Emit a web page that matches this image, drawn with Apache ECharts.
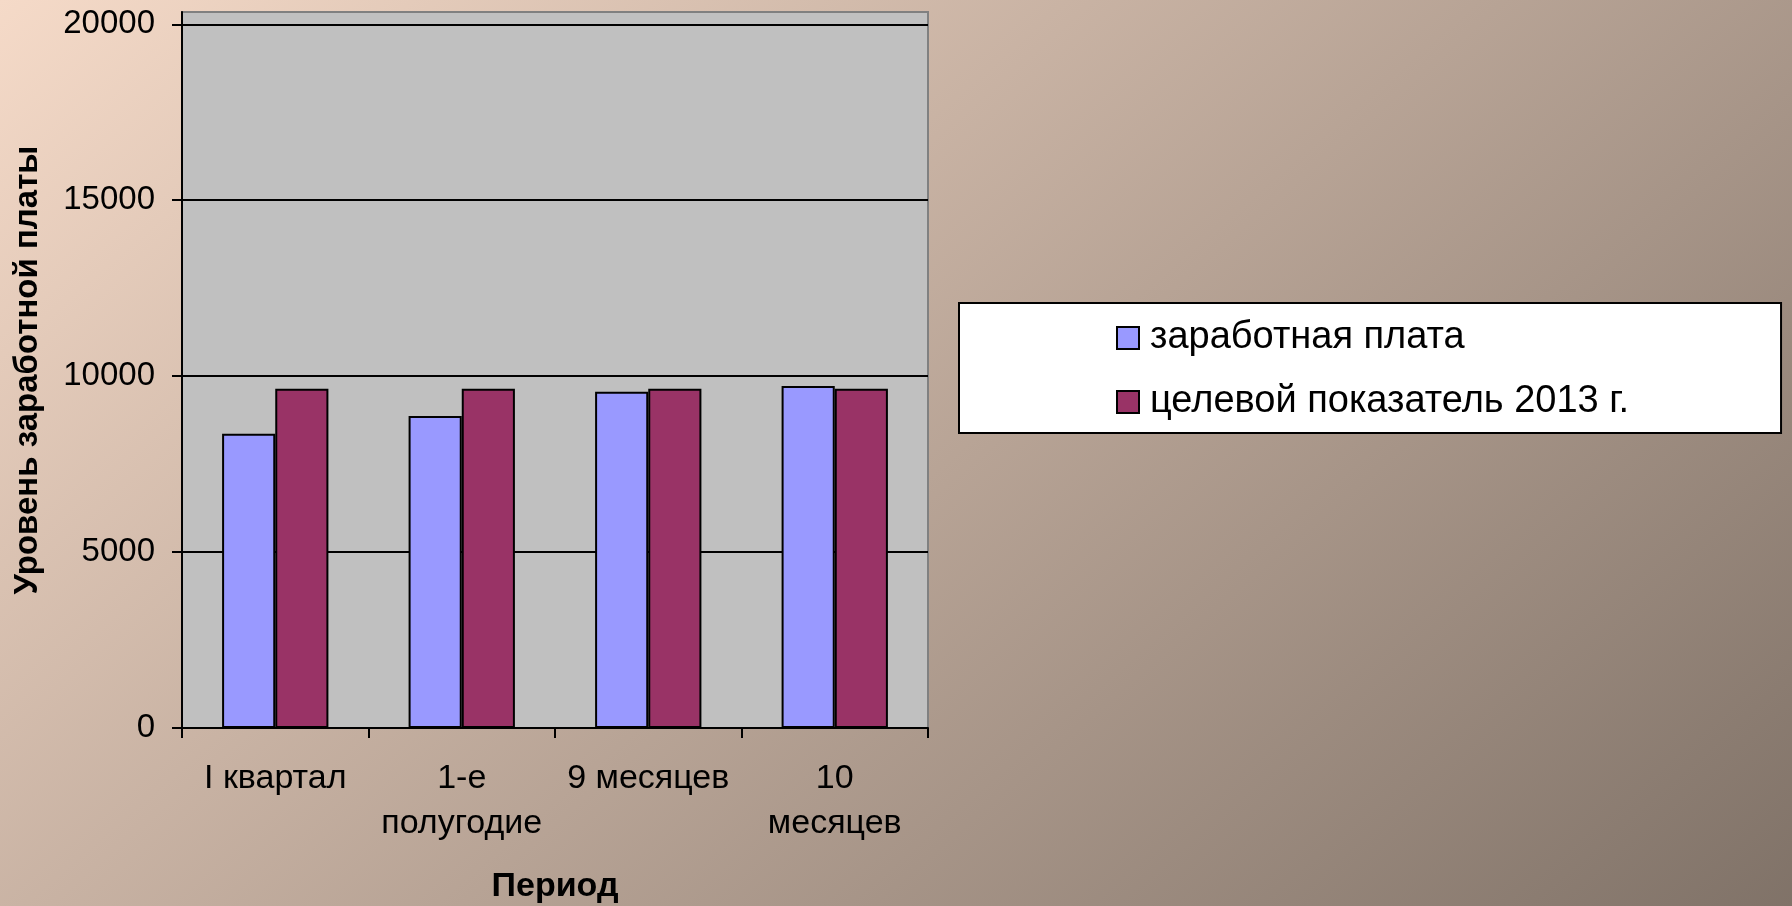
<!DOCTYPE html>
<html>
<head>
<meta charset="utf-8">
<script src="https://cdn.jsdelivr.net/npm/echarts@6/dist/echarts.min.js"></script>
<style>
html,body{margin:0;padding:0;width:1792px;height:906px;overflow:hidden;}
#chart{width:1792px;height:906px;}
</style>
</head>
<body>
<div id="chart"></div>
<script>
// Data
const categories = ['I квартал', '1-е\nполугодие', '9 месяцев', '10\nмесяцев'];
const salary = [8360, 8870, 9560, 9720];
const target = [9640, 9640, 9640, 9640];
const seriesNames = ['заработная плата', 'целевой показатель 2013 г.'];
const yTicks = [0, 5000, 10000, 15000, 20000];
const yAxisTitle = 'Уровень заработной платы';
const xAxisTitle = 'Период';

const FONT = 'Arial, "Liberation Sans", sans-serif';
const chart = echarts.init(document.getElementById('chart'), null, {renderer: 'canvas'});

const option = {
  backgroundColor: {
    type: 'linear', x: 0, y: 0, x2: 0.714, y2: 1.63,
    colorStops: [
      {offset: 0, color: '#F5DAC8'},
      {offset: 1, color: '#7A6D63'}
    ]
  },
  animation: false,
  textStyle: {fontFamily: FONT},
  grid: {
    left: 182, right: 864, top: 12, bottom: 178,
    show: true, backgroundColor: '#C0C0C0', borderColor: '#808080', borderWidth: 2,
    containLabel: false,
    outerBoundsMode: 'none'
  },
  legend: {
    orient: 'vertical',
    left: 959, top: 303,
    backgroundColor: '#FFFFFF',
    borderColor: '#000000', borderWidth: 2,
    padding: [16, 152, 12, 157],
    itemWidth: 22, itemHeight: 22, itemGap: 26,
    icon: 'rect',
    textStyle: {fontSize: 38, color: '#000', fontFamily: FONT, padding: [0, 0, 0, 6]},
    data: seriesNames
  },
  xAxis: {
    type: 'category',
    data: categories,
    boundaryGap: true,
    axisLine: {lineStyle: {color: '#000', width: 2}},
    axisTick: {show: true, length: 10, lineStyle: {color: '#000', width: 2}},
    axisLabel: {fontSize: 34, color: '#000', lineHeight: 45, margin: 28, fontFamily: FONT, interval: 0},
    name: xAxisTitle,
    nameLocation: 'middle',
    nameGap: 142,
    nameTextStyle: {fontSize: 34, fontWeight: 'bold', color: '#000', fontFamily: FONT},
    splitLine: {show: false}
  },
  yAxis: {
    type: 'value',
    min: 0, max: 20350,
    axisLine: {show: true, lineStyle: {color: '#000', width: 2}},
    axisTick: {show: true, length: 10, lineStyle: {color: '#000', width: 2}, customValues: yTicks},
    axisLabel: {fontSize: 33, color: '#000', margin: 27, fontFamily: FONT, customValues: yTicks,
      formatter: v => String(v)},
    splitLine: {show: true, lineStyle: {color: '#000', width: 2}},
    name: yAxisTitle,
    nameLocation: 'middle',
    nameGap: 138,
    nameRotate: 90,
    nameTextStyle: {fontSize: 33, fontWeight: 'bold', color: '#000', fontFamily: FONT}
  },
  series: [
    {
      name: seriesNames[0], type: 'bar', data: salary,
      barGap: '0%', barCategoryGap: '43%',
      itemStyle: {color: '#9999FF', borderColor: '#000', borderWidth: 2}
    },
    {
      name: seriesNames[1], type: 'bar', data: target,
      barGap: '0%', barCategoryGap: '43%',
      itemStyle: {color: '#993366', borderColor: '#000', borderWidth: 2}
    }
  ]
};
chart.setOption(option);
</script>
</body>
</html>
